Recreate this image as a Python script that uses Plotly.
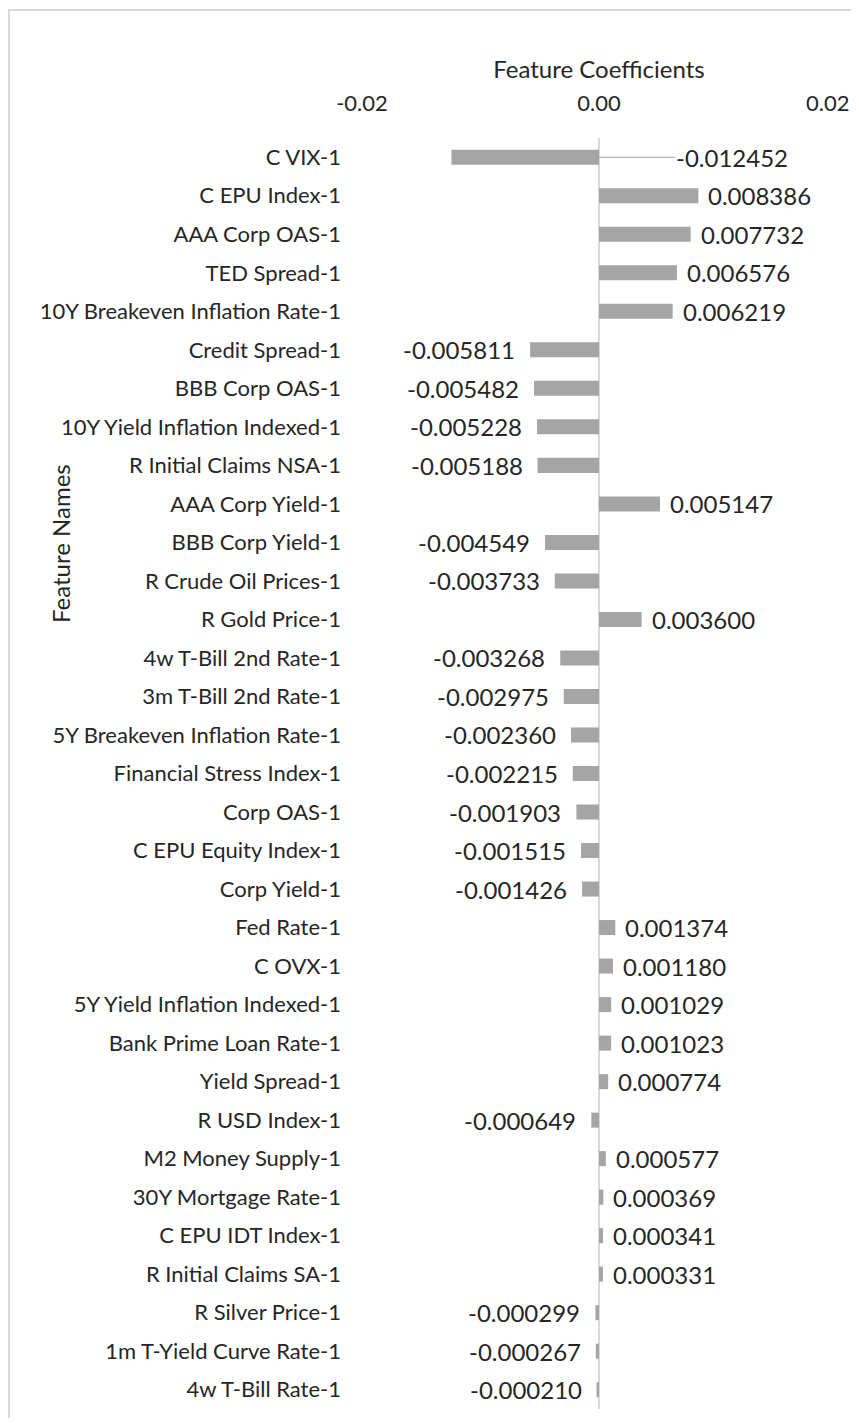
import plotly.graph_objects as go

features = ["C VIX-1", "C EPU Index-1", "AAA Corp OAS-1", "TED Spread-1",
            "10Y Breakeven Inflation Rate-1", "Credit Spread-1", "BBB Corp OAS-1",
            "10Y Yield Inflation Indexed-1", "R Initial Claims NSA-1", "AAA Corp Yield-1",
            "BBB Corp Yield-1", "R Crude Oil Prices-1", "R Gold Price-1",
            "4w T-Bill 2nd Rate-1", "3m T-Bill 2nd Rate-1", "5Y Breakeven Inflation Rate-1",
            "Financial Stress Index-1", "Corp OAS-1", "C EPU Equity Index-1", "Corp Yield-1",
            "Fed Rate-1", "C OVX-1", "5Y Yield Inflation Indexed-1", "Bank Prime Loan Rate-1",
            "Yield Spread-1", "R USD Index-1", "M2 Money Supply-1", "30Y Mortgage Rate-1",
            "C EPU IDT Index-1", "R Initial Claims SA-1", "R Silver Price-1",
            "1m T-Yield Curve Rate-1", "4w T-Bill Rate-1"]
coefficients = [-0.012452, 0.008386, 0.007732, 0.006576, 0.006219, -0.005811, -0.005482,
                -0.005228, -0.005188, 0.005147, -0.004549, -0.003733, 0.003600, -0.003268,
                -0.002975, -0.002360, -0.002215, -0.001903, -0.001515, -0.001426, 0.001374,
                0.001180, 0.001029, 0.001023, 0.000774, -0.000649, 0.000577, 0.000369,
                0.000341, 0.000331, -0.000299, -0.000267, -0.000210]
x_ticks = [-0.02, 0.00, 0.02]
x_tick_labels = ["-0.02", "0.00", "0.02"]

FONT = "Lato"
TXT = "#262626"
FS = 22
FS_TICK = 22
FS_BIG = 24

# the page body has an 8px margin on every side; size the figure to fit the window
OFF = 8
W, H = 859 - OFF, 1426 - 2 * OFF
L, R, T = 362 - OFF, 23, 138 - OFF
B = H - (1409 - OFF)
PW = W - L - R
PH = H - T - B

fig = go.Figure(go.Bar(
    x=coefficients, y=features, orientation="h",
    marker=dict(color="#a5a5a5", line=dict(width=0)),
    hoverinfo="x+y",
))

annotations = []
for i, (name, v) in enumerate(zip(features, coefficients)):
    label = f"{v:.6f}"
    if i == 0:
        # label moved out with a leader line
        annotations.append(dict(
            x=0, y=name, xref="x", yref="y", text=label,
            showarrow=True, arrowhead=0, arrowwidth=1.2, arrowcolor="#a5a5a5",
            ax=76, ay=0, axref="pixel", ayref="pixel", xanchor="left",
            font=dict(family=FONT, size=FS_BIG, color=TXT), standoff=0, borderpad=0,
        ))
        continue
    annotations.append(dict(
        x=v, y=name, xref="x", yref="y", text=label, showarrow=False,
        xanchor="left" if v > 0 else "right",
        xshift=8 if v > 0 else -13,
        font=dict(family=FONT, size=FS_BIG, color=TXT),
    ))

annotations.append(dict(
    text="Feature Names", textangle=-90, showarrow=False,
    xref="paper", yref="paper", x=(60 - OFF - L) / PW, y=1 - (544 - OFF - T) / PH,
    xanchor="center", yanchor="middle",
    font=dict(family=FONT, size=FS_BIG, color=TXT),
))

# the last tick label sits at the window edge: draw it as an annotation nudged inward
tick_text_display = list(x_tick_labels[:-1]) + [""]
annotations.append(dict(
    text=x_tick_labels[-1], x=x_ticks[-1], xref="x", yref="paper",
    y=1 + (T - (103 - OFF)) / PH, xanchor="center", yanchor="middle",
    xshift=-9, showarrow=False,
    font=dict(family=FONT, size=FS_TICK, color=TXT),
))

fig.update_layout(
    width=W, height=H,
    margin=dict(l=L, r=R, t=T, b=B, autoexpand=False),
    paper_bgcolor="white", plot_bgcolor="white",
    showlegend=False,
    bargap=0.61,
    font=dict(family=FONT, size=FS, color=TXT),
    annotations=annotations,
    xaxis=dict(
        side="top", range=[-0.02, 0.02], automargin=False,
        tickvals=x_ticks, ticktext=tick_text_display,
        showgrid=False, showline=False, ticks="",
        ticklabelstandoff=22,
        zeroline=True, zerolinecolor="#d9d9d9", zerolinewidth=2,
        title=dict(text="Feature Coefficients", standoff=3,
                   font=dict(family=FONT, size=FS_BIG, color=TXT)),
        tickfont=dict(family=FONT, size=FS_TICK, color=TXT),
    ),
    yaxis=dict(
        autorange="reversed", showgrid=False, showline=False, ticks="",
        automargin=False, ticklabelstandoff=20,
        tickfont=dict(family=FONT, size=FS, color=TXT),
    ),
    shapes=[dict(type="rect", xref="paper", yref="paper",
                 x0=(8 - OFF - L) / PW + 1 / PW, x1=1.2, y0=-0.2,
                 y1=1 + (T - (10 - OFF)) / PH,
                 line=dict(color="#d9d9d9", width=2), fillcolor="rgba(0,0,0,0)",
                 layer="below")],
)

fig.write_html("out.html")
